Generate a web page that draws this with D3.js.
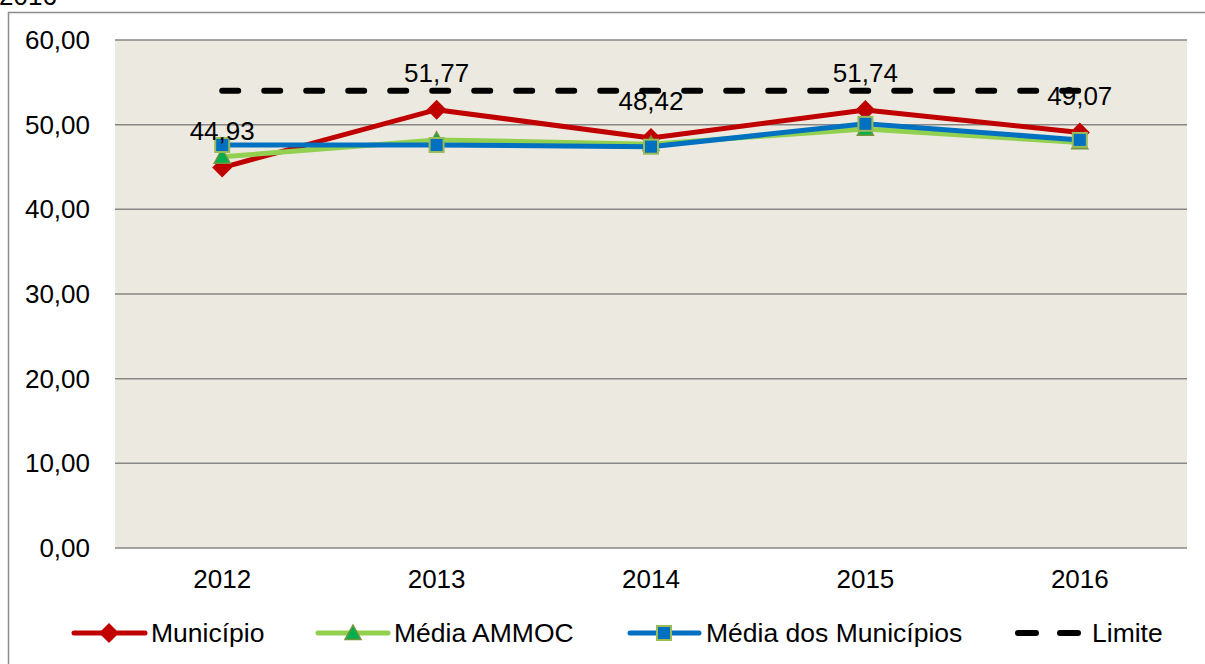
<!DOCTYPE html>
<html>
<head>
<meta charset="utf-8">
<script src="https://cdn.jsdelivr.net/npm/d3@7"></script>
<style>
	body{margin:0;background:#fff;overflow:hidden}
	svg text{font-family:"Liberation Sans",Arial,sans-serif;fill:#000}
</style>
</head>
<body>
<div id="chart"></div>
<script>
var years=["2012","2013","2014","2015","2016"]
var municipio=[44.93,51.77,48.42,51.74,49.07]
var mediaAmmoc=[46.2,48.2,47.7,49.5,47.9]
var mediaMunicipios=[47.6,47.6,47.4,50.1,48.2]
var limite=[54,54,54,54,54]
var yTicks=[0,10,20,30,40,50,60]
var seriesNames=["Município","Média AMMOC","Média dos Municípios","Limite"]

var W=1205,H=664
var svg=d3.select("#chart").append("svg").attr("width",W).attr("height",H)

// outer frame (runs off the page right and bottom)
svg.append("rect")
	.attr("x",8.5).attr("y",12.5).attr("width",1210).attr("height",700)
	.attr("fill","#fff").attr("stroke","#8c8c8c").attr("stroke-width",1.5)

// title leftover, cut by the top edge
svg.append("text").attr("x",-1).attr("y",5).attr("font-size",26).text("2016")

var plot={left:115,right:1187,top:40,bottom:548}

var x=d3.scaleBand().domain(years).range([plot.left,plot.right])
var y=d3.scaleLinear().domain([0,60]).range([plot.bottom,plot.top])
var cx=function(d,i){return x(years[i])+x.bandwidth()/2}

svg.append("rect").attr("x",plot.left).attr("y",plot.top)
	.attr("width",plot.right-plot.left).attr("height",plot.bottom-plot.top)
	.attr("fill","#ECEAE0")

svg.append("g").selectAll("line").data(yTicks).enter().append("line")
	.attr("x1",plot.left).attr("x2",plot.right)
	.attr("y1",d=>y(d)).attr("y2",d=>y(d))
	.attr("stroke","#868686").attr("stroke-width",1.5)

var fmt=function(v){return d3.format(".2f")(v).replace(".",",")}

svg.append("g").selectAll("text").data(yTicks).enter().append("text")
	.attr("x",90).attr("y",d=>y(d)+9)
	.attr("text-anchor","end").attr("font-size",26)
	.text(fmt)

svg.append("g").selectAll("text").data(years).enter().append("text")
	.attr("x",d=>x(d)+x.bandwidth()/2).attr("y",588)
	.attr("text-anchor","middle").attr("font-size",26)
	.text(d=>d)

var line=d3.line().x(cx).y(d=>y(d))

function drawLine(vals,color,width){
	return svg.append("path").datum(vals)
		.attr("d",line).attr("fill","none")
		.attr("stroke",color).attr("stroke-width",width)
		.attr("stroke-linejoin","round")
}

function diamond(g,px,py,s){
	g.append("path").attr("d","M"+px+","+(py-s)+"L"+(px+s)+","+py+"L"+px+","+(py+s)+"L"+(px-s)+","+py+"Z")
		.attr("fill","#C00000")
}
function triangle(g,px,py,s){
	g.append("path").attr("d","M"+px+","+(py-s)+"L"+(px+s)+","+(py+s*0.8)+"L"+(px-s)+","+(py+s*0.8)+"Z")
		.attr("fill","#00B050").attr("stroke","#77933C").attr("stroke-width",1.5)
}
function square(g,px,py,s){
	g.append("rect").attr("x",px-s).attr("y",py-s).attr("width",2*s).attr("height",2*s)
		.attr("fill","#0070C0").attr("stroke","#9BBB59").attr("stroke-width",2)
}

drawLine(municipio,"#C00000",5)
var gm=svg.append("g")
municipio.forEach((v,i)=>diamond(gm,cx(v,i),y(v),10))

drawLine(mediaAmmoc,"#92D050",5)
var ga=svg.append("g")
mediaAmmoc.forEach((v,i)=>triangle(ga,cx(v,i),y(v),8))

drawLine(mediaMunicipios,"#0070C0",5)
var gb=svg.append("g")
mediaMunicipios.forEach((v,i)=>square(gb,cx(v,i),y(v),7))

// limit line
svg.append("path").datum(limite)
	.attr("d",line).attr("fill","none").attr("stroke","#000").attr("stroke-width",6)
	.attr("stroke-dasharray","16,26").attr("stroke-linecap","round")

// data labels for Município
svg.append("g").selectAll("text").data(municipio).enter().append("text")
	.attr("x",(d,i)=>cx(d,i)).attr("y",d=>y(d)-28)
	.attr("text-anchor","middle").attr("font-size",26)
	.text(fmt)

// legend
var lg=svg.append("g")
var ly=633, lfs=26.5
lg.append("line").attr("x1",74).attr("x2",145).attr("y1",ly).attr("y2",ly).attr("stroke","#C00000").attr("stroke-width",5).attr("stroke-linecap","round")
diamond(lg,109,ly,10)
lg.append("text").attr("x",151).attr("y",ly+9).attr("font-size",lfs).text(seriesNames[0])

lg.append("line").attr("x1",318).attr("x2",388).attr("y1",ly).attr("y2",ly).attr("stroke","#92D050").attr("stroke-width",5).attr("stroke-linecap","round")
triangle(lg,353,ly,8)
lg.append("text").attr("x",394).attr("y",ly+9).attr("font-size",lfs).text(seriesNames[1])

lg.append("line").attr("x1",630).attr("x2",699).attr("y1",ly).attr("y2",ly).attr("stroke","#0070C0").attr("stroke-width",5).attr("stroke-linecap","round")
square(lg,664,ly,7)
lg.append("text").attr("x",706).attr("y",ly+9).attr("font-size",lfs).text(seriesNames[2])

lg.append("line").attr("x1",1018).attr("x2",1078).attr("y1",ly).attr("y2",ly).attr("stroke","#000").attr("stroke-width",6)
	.attr("stroke-dasharray","18,24").attr("stroke-linecap","round")
lg.append("text").attr("x",1092).attr("y",ly+9).attr("font-size",lfs).text(seriesNames[3])
</script>
</body>
</html>
